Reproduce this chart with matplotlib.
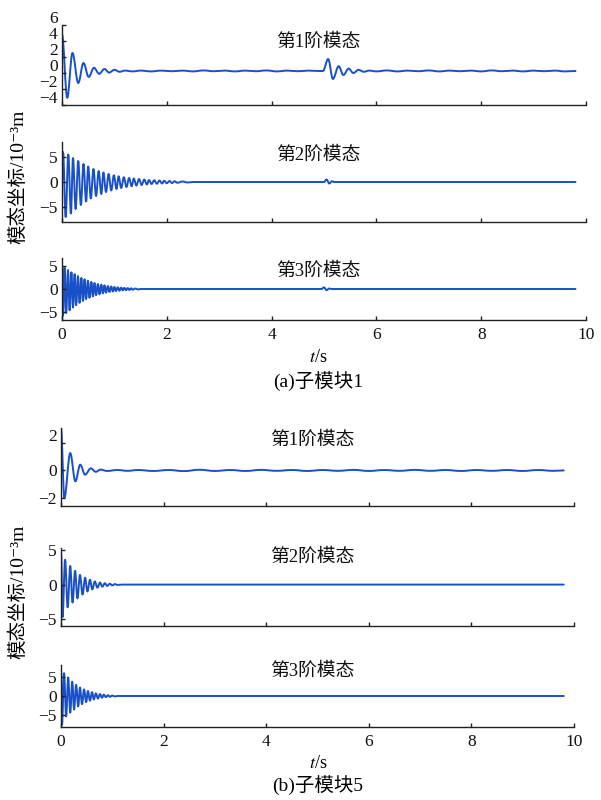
import matplotlib
matplotlib.use("Agg")
import matplotlib.pyplot as plt
import matplotlib.transforms as mtransforms
from matplotlib.path import Path
from matplotlib.patches import PathPatch

plt.rcParams["font.family"] = ["Liberation Serif", "Noto Sans CJK SC", "DejaVu Serif"]
plt.rcParams["mathtext.fontset"] = "stix"
plt.rcParams["axes.unicode_minus"] = True

# ---- data: extrema of each modal response (time s, value 10^-3 m) ----
# (a) sub-module 1, mode 1
a1_t = [0.0, 0.1, 0.2, 0.31, 0.41, 0.51, 0.61, 0.71, 0.81, 0.9, 1.0, 1.1, 1.2,
        1.35, 1.5, 1.7, 1.9, 2.1, 2.3, 2.5, 2.7, 2.9, 3.1, 3.3, 3.5, 3.7, 3.9,
        4.1, 4.3, 4.5, 4.7, 4.9, 4.98, 5.08, 5.17, 5.28, 5.37, 5.47, 5.56, 5.66,
        5.76, 5.86, 6.0, 6.2, 6.4, 6.6, 6.8, 7.0, 7.2, 7.4, 7.6, 7.8, 8.0, 8.2,
        8.4, 8.6, 8.8, 9.0, 9.2, 9.4, 9.6, 9.8]
a1_y = [4.8, -3.1, 2.5, -1.25, 1.25, -0.5, 0.65, -0.1, 0.5, 0.05, 0.4, 0.15, 0.3,
        0.2, 0.3, 0.2, 0.3, 0.22, 0.3, 0.2, 0.32, 0.22, 0.3, 0.2, 0.3, 0.22, 0.32,
        0.2, 0.3, 0.22, 0.3, 0.25, 0.25, 1.75, -0.75, 0.85, -0.25, 0.55, 0.0, 0.4,
        0.15, 0.3, 0.2, 0.32, 0.2, 0.3, 0.22, 0.32, 0.2, 0.3, 0.22, 0.3, 0.2, 0.32,
        0.22, 0.3, 0.2, 0.3, 0.22, 0.3, 0.2, 0.25]

# (a) sub-module 1, mode 2
a2_t = [0.0, 0.02, 0.07, 0.12, 0.17, 0.21, 0.26, 0.31, 0.36, 0.41, 0.46, 0.50,
        0.55, 0.60, 0.65, 0.70, 0.75, 0.79, 0.84, 0.89, 0.94, 0.99, 1.04, 1.08,
        1.13, 1.18, 1.23, 1.28, 1.33, 1.37, 1.42, 1.47, 1.52, 1.57, 1.62, 1.66,
        1.71, 1.76, 1.81, 1.86, 1.91, 1.95, 2.00, 2.05, 2.10, 2.15, 2.20, 2.30,
        2.40, 2.50, 5.0, 5.05, 5.1, 5.15, 5.2, 9.8]
a2_y = [0.0, 6.0, -7.0, 5.5, -6.3, 4.8, -5.4, 4.2, -4.6, 3.6, -3.9, 3.1,
        -3.3, 2.6, -2.8, 2.2, -2.4, 1.9, -2.0, 1.6, -1.7, 1.35, -1.4, 1.15,
        -1.2, 0.95, -1.0, 0.8, -0.85, 0.7, -0.7, 0.6, -0.6, 0.5, -0.5, 0.4,
        -0.4, 0.35, -0.35, 0.3, -0.3, 0.25, -0.25, 0.2, -0.2, 0.15, -0.15, 0.1,
        -0.1, 0.0, 0.0, 0.5, -0.3, 0.15, 0.0, 0.0]

# (a) sub-module 1, mode 3
a3_t = [0.0, 0.02, 0.05, 0.08, 0.115, 0.145, 0.18, 0.21, 0.24, 0.27, 0.305, 0.335,
        0.37, 0.40, 0.43, 0.46, 0.495, 0.525, 0.56, 0.59, 0.62, 0.65, 0.685, 0.715,
        0.75, 0.78, 0.81, 0.84, 0.875, 0.905, 0.94, 0.97, 1.00, 1.03, 1.065, 1.095,
        1.13, 1.16, 1.19, 1.22, 1.255, 1.285, 1.32, 1.35, 1.40, 1.45, 1.50,
        4.95, 5.0, 5.05, 5.1, 5.15, 9.8]
a3_y = [5.3, -5.8, 4.6, -5.2, 4.1, -4.6, 3.6, -4.0, 3.2, -3.5, 2.8, -3.0,
        2.4, -2.6, 2.1, -2.2, 1.8, -1.9, 1.55, -1.6, 1.3, -1.35, 1.1, -1.15,
        0.95, -0.95, 0.8, -0.8, 0.65, -0.65, 0.55, -0.55, 0.45, -0.45, 0.37, -0.37,
        0.3, -0.3, 0.25, -0.25, 0.2, -0.2, 0.15, -0.15, 0.1, -0.1, 0.0,
        0.0, 0.35, -0.25, 0.1, 0.0, 0.0]

# (b) sub-module 5, mode 1
b1_t = [0.0, 0.065, 0.18, 0.28, 0.375, 0.47, 0.58, 0.68, 0.77, 0.9, 1.1, 1.3,
        1.5, 1.8, 2.1, 2.4, 2.7, 3.0, 3.3, 3.6, 3.9, 4.2, 4.5, 4.8, 5.1, 5.4,
        5.7, 6.0, 6.3, 6.6, 6.9, 7.2, 7.5, 7.8, 8.1, 8.4, 8.7, 9.0, 9.3, 9.6, 9.8]
b1_y = [3.1, -2.0, 1.27, -0.8, 0.42, -0.31, 0.15, -0.1, 0.06, -0.04, 0.03, -0.03,
        0.03, -0.04, 0.03, -0.05, 0.05, -0.04, 0.03, -0.04, 0.04, -0.03, 0.03,
        -0.04, 0.03, -0.03, 0.04, -0.04, 0.03, -0.03, 0.04, -0.03, 0.03, -0.04,
        0.03, -0.03, 0.03, -0.04, 0.03, -0.03, 0.0]

# (b) sub-module 5, mode 2
b2_t = [0.0, 0.03, 0.08, 0.13, 0.18, 0.225, 0.275, 0.32, 0.37, 0.42, 0.47, 0.515,
        0.565, 0.61, 0.66, 0.71, 0.76, 0.805, 0.855, 0.9, 0.95, 1.0, 1.05, 1.1,
        1.2, 9.8]
b2_y = [5.0, -4.7, 3.6, -3.3, 2.7, -2.6, 2.0, -2.0, 1.4, -1.45, 1.0, -1.0,
        0.7, -0.7, 0.45, -0.45, 0.3, -0.3, 0.2, -0.2, 0.12, -0.12, 0.07, -0.05,
        0.0, 0.0]

# (b) sub-module 5, mode 3
b3_t = [0.0, 0.02, 0.06, 0.10, 0.14, 0.18, 0.22, 0.255, 0.295, 0.335, 0.37, 0.41,
        0.45, 0.49, 0.525, 0.565, 0.605, 0.64, 0.68, 0.72, 0.76, 0.80, 0.835, 0.875,
        0.915, 0.955, 1.0, 1.05, 1.1, 9.8]
b3_y = [7.2, -7.4, 5.9, -5.3, 4.8, -4.3, 3.7, -3.5, 2.9, -2.7, 2.2, -2.1,
        1.7, -1.6, 1.3, -1.2, 1.0, -0.9, 0.7, -0.65, 0.5, -0.45, 0.35, -0.3,
        0.2, -0.2, 0.1, -0.1, 0.0, 0.0]

mode_titles = ["第1阶模态", "第2阶模态", "第3阶模态"]
x_ticks = [0, 2, 4, 6, 8, 10]
captions = ["(a)子模块1", "(b)子模块5"]
y_label = "模态坐标/10⁻³m"

LINE = "#1850c8"

fig = plt.figure(figsize=(6.01, 8.0), dpi=100)
W, H = 601.0, 800.0


def make_ax(left, right, top, bottom):
    return fig.add_axes([left / W, 1 - bottom / H, (right - left) / W, (bottom - top) / H])


def wave_path(t, y, k=0.36):
    # smooth half-waves between successive extrema (cubic Bezier, flat at extrema)
    verts = [(t[0], y[0])]
    codes = [Path.MOVETO]
    for i in range(1, len(t)):
        dt = t[i] - t[i - 1]
        verts += [(t[i - 1] + k * dt, y[i - 1]), (t[i] - k * dt, y[i]), (t[i], y[i])]
        codes += [Path.CURVE4] * 3
    return Path(verts, codes)


panels = [
    # (axes box px, t, y, ylim, yticks, title y-frac, shifted labels, x labels)
    ((62, 586, 25, 105), a1_t, a1_y, (-4, 6), [-4, -2, 0, 2, 4, 6], 0.79, "all", False),
    ((62, 586, 142, 222), a2_t, a2_y, (-8, 8), [-5, 0, 5], 0.84, None, False),
    ((62, 586, 258, 320), a3_t, a3_y, (-6.7, 6.7), [-5, 0, 5], 0.78, None, True),
    ((61, 574, 428, 506), b1_t, b1_y, (-2.6, 3.1), [-2, 0, 2], 0.85, "top", False),
    ((61, 574, 548, 626), b2_t, b2_y, (-6.0, 5.3), [-5, 0, 5], 0.88, None, False),
    ((61, 574, 665, 727), b3_t, b3_y, (-8, 8), [-5, 0, 5], 0.90, None, True),
]

shift = mtransforms.ScaledTranslation(0, 8 / 100.0, fig.dpi_scale_trans)

for i, (box, t, y, ylim, yt, ty, sh, xlab) in enumerate(panels):
    ax = make_ax(*box)
    ax.add_patch(PathPatch(wave_path(t, y), fill=False, edgecolor=LINE, lw=1.4,
                           joinstyle="round", capstyle="round"))
    ax.set_xlim(0, 10)
    ax.set_ylim(*ylim)
    ax.set_xticks(x_ticks)
    ax.set_yticks(yt)
    for s in ("top", "right"):
        ax.spines[s].set_visible(False)
    for s in ("left", "bottom"):
        ax.spines[s].set_linewidth(1.0)
        ax.spines[s].set_color("#222222")
    ax.tick_params(direction="in", length=3, width=1.0, labelsize=12.5,
                   colors="#222222", labelcolor="#111111", pad=3)
    ax.tick_params(axis="x", pad=5)
    if not xlab:
        ax.set_xticklabels([])
    ax.text(0.49, ty, mode_titles[i % 3], transform=ax.transAxes,
            ha="center", va="center", fontsize=13.5, color="#111111")
    if sh is not None:
        ticks = ax.yaxis.get_major_ticks()
        if sh == "top":
            ticks = ticks[-1:]
        for tk in ticks:
            tk.label1.set_transform(tk.label1.get_transform() + shift)

# axis titles and captions
fig.text(318 / W, 1 - 357 / H, "$t$/s", ha="center", va="center", fontsize=13)
fig.text(318 / W, 1 - 381 / H, captions[0], ha="center", va="center", fontsize=14)
fig.text(318 / W, 1 - 763 / H, "$t$/s", ha="center", va="center", fontsize=13)
fig.text(318 / W, 1 - 785 / H, captions[1], ha="center", va="center", fontsize=14)
fig.text(18 / W, 1 - 177 / H, y_label, rotation=90, ha="center", va="center", fontsize=14)
fig.text(18 / W, 1 - 592 / H, y_label, rotation=90, ha="center", va="center", fontsize=14)

fig.savefig("out.png", dpi=100)
